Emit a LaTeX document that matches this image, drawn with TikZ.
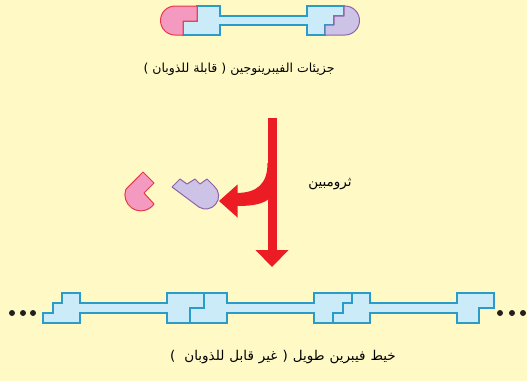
\documentclass[tikz,border=0pt]{standalone}
\usepackage{fontspec}
\TeXXeTstate=1
\newfontfamily\arabicfont[Script=Arabic]{DejaVu Sans}
\usetikzlibrary{calc}
\definecolor{paper}{RGB}{255,249,198}
\definecolor{fibfill}{RGB}{204,235,249}
\definecolor{fibline}{RGB}{43,155,201}
\definecolor{pinkfill}{RGB}{244,154,193}
\definecolor{pinkline}{RGB}{229,58,72}
\definecolor{lilacfill}{RGB}{205,195,230}
\definecolor{lilacline}{RGB}{142,99,168}
\definecolor{arrowred}{RGB}{236,28,36}
\definecolor{dotcol}{RGB}{35,31,32}
% one right-to-left word
\newcommand{\rword}[1]{\beginR #1\endR}
% gap between the words of a caption
\newcommand{\gap}{\hspace{5pt}}
\tikzset{
  fibre/.style={fill=fibfill, draw=fibline, line width=1.2pt, line join=miter},
  seam/.style={draw=fibline, line width=1.2pt},
  pinkcap/.style={fill=pinkfill, draw=pinkline, line width=1pt, line join=round},
  lilaccap/.style={fill=lilacfill, draw=lilacline, line width=1pt, line join=round},
  redshaft/.style={draw=arrowred, line width=9pt},
  redfill/.style={fill=arrowred},
  dotmark/.style={fill=dotcol},
  caption/.style={inner sep=0pt, font=\arabicfont\fontsize{12.5}{14}\selectfont}
}
\begin{document}
\begin{tikzpicture}[x=1pt,y=-1pt]
\fill[paper] (0,0) rectangle (527,381);
\useasboundingbox (0,0) rectangle (527,381);

% soluble fibrinogen molecule
\path[fibre] (197,6) -- (220,6) -- (220,16) -- (307,16) -- (307,6) -- (344,6)
  -- (344,16) -- (334,16) -- (334,25) -- (325,25) -- (325,35) -- (307,35)
  -- (307,25) -- (220,25) -- (220,35) -- (183,35) -- (183,21) -- (197,21) -- cycle;
\path[pinkcap] (175,6) -- (197,6) -- (197,21) -- (183,21) -- (183,35) -- (175,35)
  arc[start angle=90, end angle=270, radius=14.5] -- cycle;
\path[lilaccap] (325,35) -- (325,25) -- (334,25) -- (334,16) -- (344,16) -- (344,6)
  -- (345,6) arc[start angle=-90, end angle=90, radius=14.5] -- cycle;

\node[caption] (fibrinogen) at (239,69)
  {) \rword{للذوبان} \rword{قابلة} ( \rword{الفيبرينوجين} \rword{جزيئات}};

% thrombin arrow: straight shaft with a curved branch to the left
\coordinate (shafttop) at (272,118);
\coordinate (shaftend) at (272,250);
\coordinate (shafttip) at (272,267);
\coordinate (branchend) at (237,199.5);
\coordinate (branchtip) at (219,201);
\fill[redfill] (270,163) -- (267.5,163) .. controls (267.5,184) and (257,193) .. (236,193)
  -- (236,206) .. controls (254,206) and (263,204) .. (270,198) -- cycle;
\draw[redshaft] (shafttop) -- (shaftend);
\fill[redfill] ($(shaftend)+(-16.5,0)$) -- ($(shaftend)+(16.5,0)$) -- (shafttip) -- cycle;
\fill[redfill] (branchtip) -- ($(branchend)+(0.5,-15)$) -- ($(branchend)+(0.5,18)$) -- cycle;

\node[caption, font=\arabicfont\fontsize{13.5}{15}\selectfont] (thrombin) at (330,184) {\rword{ثرومبين}};

% cleaved fragments
\path[pinkcap] (143,172) -- (154,183) -- (144,193) -- (154,204)
  arc[start angle=35, end angle=200, radius=16] -- cycle;
\path[lilaccap] (172,187) -- (180,179) -- (187,184) -- (195,179) -- (200,184)
  -- (207,179) -- (214,186) arc[start angle=-50, end angle=120, radius=13] -- cycle;

% insoluble fibrin strand
\path[fibre] (43,323) -- (43,313) -- (53,313) -- (53,303) -- (62,303) -- (62,293)
  -- (80,293) -- (80,303) -- (167,303) -- (167,293) -- (227,293) -- (227,303)
  -- (314,303) -- (314,293) -- (370,293) -- (370,303) -- (457,303) -- (457,293)
  -- (494,293) -- (494,308) -- (479,308) -- (479,323) -- (457,323) -- (457,313)
  -- (370,313) -- (370,323) -- (314,323) -- (314,313) -- (227,313) -- (227,323)
  -- (167,323) -- (167,313) -- (80,313) -- (80,323) -- cycle;
\draw[seam] (204,293) -- (204,308) -- (190,308) -- (190,323);
\draw[seam] (352,293) -- (352,303) -- (343,303) -- (343,313) -- (333,313) -- (333,323);

\foreach \x in {12,23,33,500,512,523}
  \fill[dotmark] (\x,313) circle[radius=3];

\node[caption, font=\arabicfont\fontsize{13.5}{15}\selectfont] (fibrin) at (283,357)
  {)\hspace{9pt}\rword{للذوبان}\gap\rword{قابل}\gap\rword{غير}\gap(\gap\rword{طويل}\gap\rword{فيبرين}\gap\rword{خيط}};
\end{tikzpicture}
\end{document}
